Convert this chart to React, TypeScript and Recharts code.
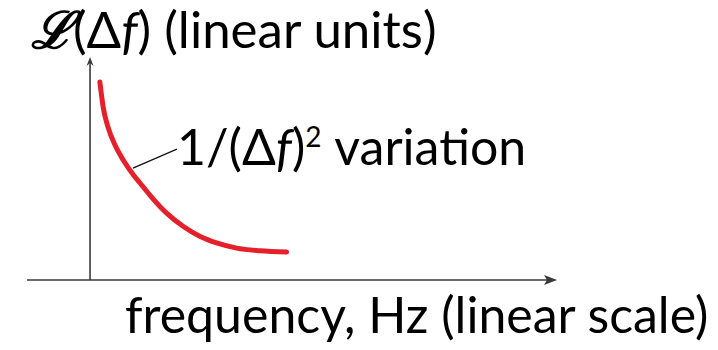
import React from "react";
import { LineChart, Line, XAxis, YAxis, ReferenceLine } from "recharts";

// Frequency offset (arbitrary linear units) and phase-noise level (linear units)
const freqOffset = [0.21, 0.285, 0.39, 0.535, 0.71, 0.93, 1.07, 1.28, 1.64, 2.0, 2.36, 2.71, 3.14, 3.64, 4.21];
const noiseLevel = [8.88, 7.71, 6.82, 6.05, 5.38, 4.71, 4.35, 3.81, 3.0, 2.4, 1.95, 1.66, 1.43, 1.31, 1.26];

const xDomain: [number, number] = [-1.35, 10];
const yDomain: [number, number] = [0, 10];

// Leader line from the curve to its annotation
const leaderFrom = { x: 0.92, y: 5.02 };
const leaderTo = { x: 1.86, y: 5.87 };

const titleText = "(linear units)";
const xLabelText = "frequency, Hz (linear scale)";
const curveLabelText = " variation";

const data = freqOffset.map((f, i) => ({ f, level: noiseLevel[i] }));

const W = 718;
const H = 350;
const AXIS = "#3a3a3a";
const FONT = "Lato, 'Noto Sans', sans-serif";

const ArrowAxis = (props: any) => {
  const { x1, y1, x2, y2, head } = props;
  const dx = x2 - x1;
  const dy = y2 - y1;
  const len = Math.sqrt(dx * dx + dy * dy) || 1;
  const ux = dx / len;
  const uy = dy / len;
  const hl = head === "big" ? 13 : 9;
  const hw = head === "big" ? 5 : 3.5;
  const bx = x2 - ux * hl;
  const by = y2 - uy * hl;
  const px = -uy;
  const py = ux;
  const pts = `${x2},${y2} ${bx + px * hw},${by + py * hw} ${bx + ux * 3},${by + uy * 3} ${bx - px * hw},${by - py * hw}`;
  return (
    <g>
      <line x1={x1} y1={y1} x2={bx + ux * 3} y2={by + uy * 3} stroke={AXIS} strokeWidth={1.6} />
      <polygon points={pts} fill={AXIS} />
    </g>
  );
};

const Leader = (props: any) => {
  const { x1, y1, x2, y2 } = props;
  return <line x1={x1} y1={y1} x2={x2} y2={y2} stroke="#111" strokeWidth={1.3} />;
};

export default function App() {
  return (
    <div style={{ position: "absolute", left: 0, top: 0, width: W, height: H, background: "#fff" }}>
      <LineChart
        width={W}
        height={H}
        data={data}
        margin={{ top: 57, right: W - 557, left: 27, bottom: H - 280 }}
      >
        <XAxis type="number" dataKey="f" domain={xDomain} hide allowDataOverflow />
        <YAxis type="number" domain={yDomain} hide allowDataOverflow />
        <ReferenceLine
          segment={[{ x: xDomain[0], y: 0 }, { x: xDomain[1], y: 0 }]}
          shape={(p: any) => <ArrowAxis {...p} head="big" />}
          ifOverflow="visible"
        />
        <ReferenceLine
          segment={[{ x: 0, y: 0 }, { x: 0, y: yDomain[1] }]}
          shape={(p: any) => <ArrowAxis {...p} head="small" />}
          ifOverflow="visible"
        />
        <ReferenceLine
          segment={[leaderFrom, leaderTo]}
          shape={(p: any) => <Leader {...p} />}
          ifOverflow="visible"
        />
        <Line
          type="monotone"
          dataKey="level"
          stroke="#e3212b"
          strokeWidth={5}
          strokeLinecap="round"
          dot={false}
          isAnimationActive={false}
        />
      </LineChart>
      <svg
        width={W}
        height={H}
        style={{ position: "absolute", left: 0, top: 0, pointerEvents: "none" }}
      >
        <text x={31} y={48} fontFamily={FONT} fontSize={51} fill="#000">
          <tspan fontFamily="'DejaVu Serif', serif" fontStyle="italic" fontWeight="bold">ℒ</tspan>
          <tspan>(Δ</tspan>
          <tspan fontStyle="italic">f</tspan>
          <tspan>) {titleText}</tspan>
        </text>
        <text x={177} y={165} fontFamily={FONT} fontSize={50} fill="#000">
          <tspan>1/(Δ</tspan>
          <tspan fontStyle="italic">f</tspan>
          <tspan>)</tspan>
          <tspan fontSize={28} dy={-18}>2</tspan>
          <tspan dy={18}>{curveLabelText}</tspan>
        </text>
        <text x={125} y={333} fontFamily={FONT} fontSize={50} fill="#000">
          {xLabelText}
        </text>
      </svg>
    </div>
  );
}
